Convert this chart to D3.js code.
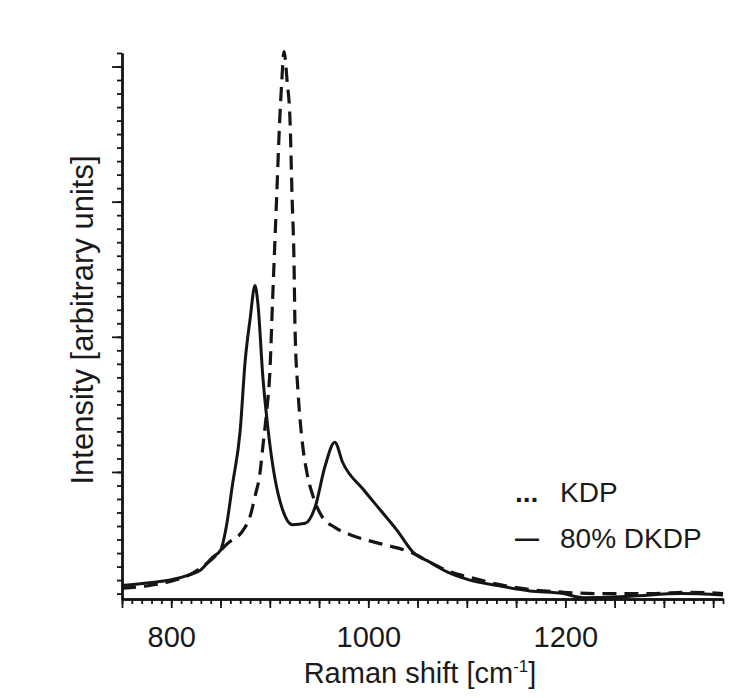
<!DOCTYPE html>
<html>
<head>
<meta charset="utf-8">
<script src="https://cdn.jsdelivr.net/npm/d3@7"></script>
<style>
  html, body { margin: 0; padding: 0; background: #ffffff; }
  svg { display: block; }
  text { font-family: "Liberation Sans", Arial, Helvetica, sans-serif; fill: #1a1a1a; }
</style>
</head>
<body>
<svg id="chart" width="746" height="698"></svg>
<script>
// ---- data ----
const ramanShiftDKDP = [750,778,799,819,829,842,850,856,862,870,875,880,885,888,893,898,905,913,923,936,946,956,966,974,995,1012,1029,1045,1063,1080,1103,1131,1164,1198,1218,1266,1317,1360];
const intensityDKDP  = [0.16,0.18,0.20,0.24,0.27,0.37,0.42,0.60,0.90,1.31,1.82,2.13,2.38,2.24,1.70,1.33,0.96,0.72,0.61,0.62,0.74,1.04,1.22,1.07,0.87,0.72,0.57,0.41,0.33,0.26,0.20,0.16,0.12,0.10,0.07,0.08,0.10,0.09];

const ramanShiftKDP = [750,778,799,819,842,857,873,880,885,890,893,897,900,903,905,907,910,912,914.5,917.5,920.6,922.6,924.6,925.6,928.7,932.7,937.8,943.9,953,966,983.5,1012,1045,1063,1080,1103,1131,1164,1198,1235,1286,1327,1360];
const intensityKDP  = [0.14,0.16,0.19,0.24,0.36,0.47,0.57,0.67,0.82,0.99,1.19,1.46,1.73,2.30,2.67,3.04,3.59,3.87,4.11,3.90,3.59,3.04,2.55,2.07,1.59,1.24,0.99,0.82,0.67,0.59,0.53,0.47,0.40,0.33,0.27,0.22,0.17,0.13,0.11,0.10,0.10,0.11,0.10];

const xTickLabels = [800, 1000, 1200];
const xMinorTicks = d3.range(750, 1361, 10);
const xMajorTicks = d3.range(750, 1361, 50);
const yMinorTicks = d3.range(1, 42).map(i => i / 10);
const yMajorTicks = [1, 2, 3, 4];
const seriesNames = ["KDP", "80% DKDP"];
const xTitle = "Raman shift [cm";
const yTitle = "Intensity [arbitrary units]";

// ---- layout ----
const svg = d3.select("#chart");
const x = d3.scaleLinear().domain([750, 1360]).range([122, 723]);
const y = d3.scaleLinear().domain([0.06, 4.1]).range([599, 53]);
const ink = "#151515";

// axes
const gx = svg.append("g").attr("transform", `translate(0,${y.range()[0]})`);
gx.append("g").call(d3.axisBottom(x).tickValues(xMinorTicks).tickSize(5).tickSizeOuter(0).tickFormat(""));
gx.append("g").call(d3.axisBottom(x).tickValues(xMajorTicks).tickSize(9).tickSizeOuter(0).tickFormat(""));
gx.append("g").call(d3.axisBottom(x).tickValues(xTickLabels).tickSize(0).tickSizeOuter(0).tickPadding(27).tickFormat(d3.format("d")))
  .call(g => g.select(".domain").remove())
  .selectAll("text").style("font-size", "29px");

const gy = svg.append("g").attr("transform", `translate(${x.range()[0]},0)`);
gy.append("g").call(d3.axisLeft(y).tickValues(yMinorTicks).tickSize(5).tickSizeOuter(0).tickFormat(""));
gy.append("g").call(d3.axisLeft(y).tickValues(yMajorTicks).tickSize(10).tickSizeOuter(0).tickFormat(""));

svg.selectAll(".domain").attr("stroke", ink).attr("stroke-width", 2.4);
svg.selectAll(".tick line").attr("stroke", ink).attr("stroke-width", 1.8);
svg.selectAll(".tick text").attr("fill", "#1a1a1a").style("font-family", "Liberation Sans, Arial, sans-serif");

// titles
const xt = svg.append("text")
  .attr("x", 420).attr("y", 683)
  .attr("text-anchor", "middle")
  .style("font-size", "29px");
xt.append("tspan").text(xTitle);
xt.append("tspan").attr("dy", -11).style("font-size", "17px").text("-1");
xt.append("tspan").attr("dy", 11).text("]");

svg.append("text")
  .attr("transform", "translate(93,320) rotate(-90)")
  .attr("text-anchor", "middle")
  .style("font-size", "31px")
  .text(yTitle);

// curves
const line = d3.line().x(d => x(d[0])).y(d => y(d[1])).curve(d3.curveMonotoneX);
const kdp = ramanShiftKDP.map((v, i) => [v, intensityKDP[i]]);
const dkdp = ramanShiftDKDP.map((v, i) => [v, intensityDKDP[i]]);

svg.append("path").datum(dkdp)
  .attr("d", line).attr("fill", "none")
  .attr("stroke", ink).attr("stroke-width", 3).attr("stroke-linejoin", "round");

svg.append("path").datum(kdp)
  .attr("d", line).attr("fill", "none")
  .attr("stroke", ink).attr("stroke-width", 3.2)
  .attr("stroke-dasharray", "14,8");

// legend
const legend = svg.append("g");
const legendRows = [
  { mark: "...", name: seriesNames[0], y: 502, markY: 502, size: "28px" },
  { mark: "\u2014", name: seriesNames[1], y: 548, markY: 546, size: "24px" }
];
legendRows.forEach(r => {
  legend.append("text").attr("x", 515).attr("y", r.markY).style("font-size", r.size)
    .style("font-weight", "bold").text(r.mark);
  legend.append("text").attr("x", 560).attr("y", r.y).style("font-size", "28px").text(r.name);
});
</script>
</body>
</html>
